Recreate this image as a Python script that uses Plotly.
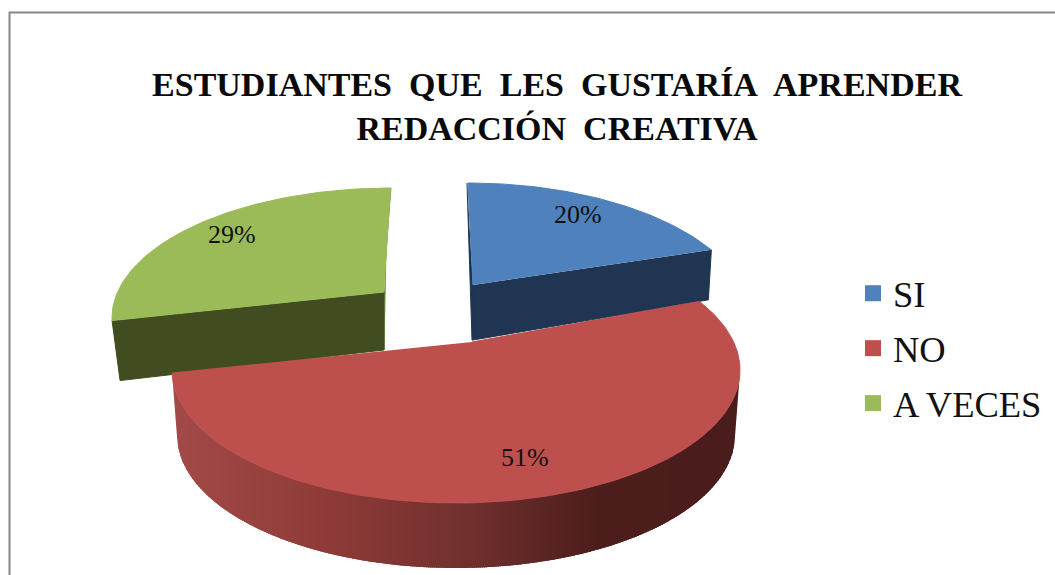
import numpy as np
import plotly.graph_objects as go

categories = ["SI", "NO", "A VECES"]
values = [20, 51, 29]
top_colors = ["#4f81bd", "#bd4f4d", "#9bbb59"]
wall_colors = ["#1f3552", "#4a1c1b", "#414d20"]
sliver_colors = ["#1f3552", "#4a1c1b", "#7c9a48"]
title_lines = ["ESTUDIANTES\u00a0 QUE\u00a0 LES\u00a0 GUSTARÍA\u00a0 APRENDER", "REDACCIÓN\u00a0 CREATIVA"]

# Geometry of the drawing (pixels): ellipse centre, semi axes, apex, depth, label placement
ELLIPSES = [(468, 321, 284, 138), (456, 370, 284, 133), (391, 318, 279, 130)]
APEX = [(473, 285), (472, 342), (384, 292)]
DEPTH = [55, 65, 58]
LABEL_F = [0.82, 0.75, 0.85]
LABEL_SHIFT = [(0, 0), (-8, 1), (-1, 3)]
WARP = 13.7
W, H = 1055, 575


def ring(k, theta, dz=0.0, shrink=0.0):
    """Point on slice k's rim for pie angle theta (degrees clockwise from the top)."""
    cx, cy, a, b = ELLIPSES[k]
    t = np.asarray(theta, dtype=float)
    phi = np.radians(t - WARP * np.sin(np.radians(t)))
    return cx + (a - shrink) * np.sin(phi), cy + dz - b * np.cos(phi)


fig = go.Figure()


def poly(xs, ys, color, lw=1):
    fig.add_trace(go.Scatter(x=list(xs), y=list(ys), mode="lines", fill="toself", fillcolor=color,
                             line=dict(color=color, width=lw), hoverinfo="skip", showlegend=False))


def lerp_color(stops, u):
    xs = [s[0] for s in stops]
    c = [np.interp(u, xs, [s[1][i] for s in stops]) for i in range(3)]
    return "rgb(%d,%d,%d)" % tuple(int(round(v)) for v in c)


cum = np.concatenate([[0], np.cumsum(values)]) * 3.6
starts, ends = cum[:-1], cum[1:]

# --- green slice
k = 2
ax, ay = APEX[k]
d = DEPTH[k]
ex, ey = ring(k, starts[k])
ox, oy = ring(k, ends[k])
poly([ox, ox - 5, ax, ax], [oy, oy + d + 3, ay + d, ay], sliver_colors[k])
poly([ex, ex + 8, ax, ax], [ey, ey + d + 2, ay + d, ay], wall_colors[k])
th = np.linspace(starts[k], ends[k], 80)
rx, ry = ring(k, th)
poly(np.r_[ax, rx], np.r_[ay, ry], top_colors[k])

# --- blue slice
k = 0
ax, ay = APEX[k]
d = DEPTH[k]
ex, ey = ring(k, ends[k])
sx, sy = ring(k, starts[k])
poly([sx - 1, ax - 1, ax, ax], [sy, ay + d, ay + d, ay], sliver_colors[k])
poly([ex, ex - 3, ax, ax], [ey, ey + d - 5, ay + d, ay], wall_colors[k])
th = np.linspace(starts[k], ends[k], 60)
rx, ry = ring(k, th)
poly(np.r_[ax, rx], np.r_[ay, ry], top_colors[k])

# --- red slice, side wall as a left-to-right gradient of vertical strips
k = 1
ax, ay = APEX[k]
d = DEPTH[k]
stops = [(172, (163, 74, 72)), (340, (140, 58, 55)), (470, (112, 48, 46)), (600, (76, 29, 27)), (740, (74, 28, 27))]
th = np.linspace(104, ends[k], 220)
tx, ty = ring(k, th)
bx, by = ring(k, th, dz=d, shrink=5)
mid = len(th) // 2
poly(np.r_[tx[:mid + 1], bx[:mid + 1][::-1]], np.r_[ty[:mid + 1], by[:mid + 1][::-1]], lerp_color(stops, 740), lw=0)
poly(np.r_[tx[mid:], bx[mid:][::-1]], np.r_[ty[mid:], by[mid:][::-1]], lerp_color(stops, 172), lw=0)
left, right = int(np.ceil(bx.min())), int(np.floor(bx.max()))
for x0 in range(left, right, 2):
    x1 = min(x0 + 3, right)
    ytop = np.interp([x0, x1], tx[::-1], ty[::-1])
    ybot = np.interp([x0, x1], bx[::-1], by[::-1])
    poly([x0, x1, x1, x0], [ytop[0], ytop[1], ybot[1], ybot[0]], lerp_color(stops, x0 + 1), lw=0)
th_all = np.linspace(starts[k], ends[k], 150)
ax_x, ax_y = ring(k, th_all)
poly(np.r_[ax, ax_x], np.r_[ay, ax_y], top_colors[k])

# Legend entries
for name, color in zip(categories, top_colors):
    fig.add_trace(go.Scatter(x=[None], y=[None], mode="markers", name=name, legendgroup=name,
                             marker=dict(symbol="square", size=18, color=color)))

# Percent labels
for k, v in enumerate(values):
    mx, my = ring(k, (starts[k] + ends[k]) / 2)
    ax, ay = APEX[k]
    fig.add_annotation(x=ax + LABEL_F[k] * (mx - ax) + LABEL_SHIFT[k][0],
                       y=ay + LABEL_F[k] * (my - ay) + LABEL_SHIFT[k][1], text=f"{v}%",
                       showarrow=False, font=dict(family="Liberation Serif", size=26, color="#111111"))

fig.add_shape(type="line", x0=9.5, x1=9.5, y0=12, y1=H, line=dict(color="#868686", width=2))
fig.add_shape(type="line", x0=9, x1=W, y0=12.5, y1=12.5, line=dict(color="#868686", width=2))

fig.update_layout(
    width=W, height=H,
    margin=dict(l=0, r=0, t=0, b=0),
    paper_bgcolor="white", plot_bgcolor="white",
    title=dict(text="<br>".join(title_lines), x=557 / W, xanchor="center", y=1 - 96 / H, yanchor="top",
               yref="container", font=dict(family="Liberation Serif", size=34, color="#0a0a0a", weight="bold")),
    xaxis=dict(range=[0, W], visible=False, fixedrange=True),
    yaxis=dict(range=[H, 0], visible=False, fixedrange=True),
    legend=dict(x=853 / W, xanchor="left", y=1 - 263 / H, yanchor="top", tracegroupgap=4.5,
                font=dict(family="Liberation Serif", size=36.5, color="#111111"),
                bgcolor="rgba(0,0,0,0)", itemwidth=30),
    showlegend=True,
)
fig.write_html("out.html", config={"displayModeBar": False},
               post_script="document.body.style.margin='0';document.documentElement.style.overflow='hidden';")
